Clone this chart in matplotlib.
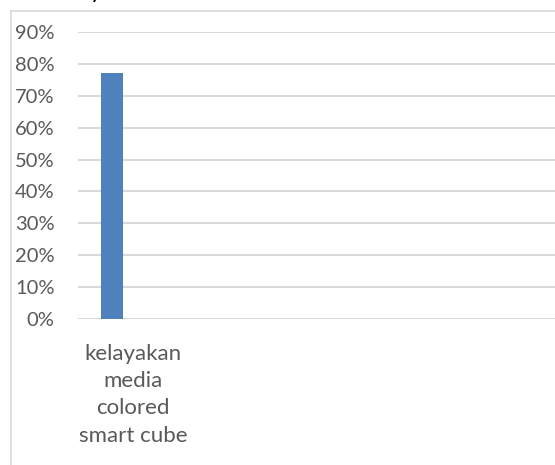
import matplotlib.pyplot as plt
from matplotlib.lines import Line2D
from matplotlib.ticker import FuncFormatter

categories = ['kelayakan\nmedia\ncolored\nsmart cube']
values = [0.77]
yticks = [0, 0.1, 0.2, 0.3, 0.4, 0.5, 0.6, 0.7, 0.8, 0.9]

plt.rcParams['font.family'] = ['Lato', 'DejaVu Sans']

W, H = 555, 465
fig = plt.figure(figsize=(W / 100, H / 100), dpi=100)
fig.patch.set_facecolor('white')

# chart frame (cropped: only top and left edges visible)
fig.add_artist(Line2D([10.5 / W, 10.5 / W], [0, 1 - 11.5 / H],
                      transform=fig.transFigure, color='#d9d9d9', lw=1.2))
fig.add_artist(Line2D([10.5 / W, 1], [1 - 11.5 / H, 1 - 11.5 / H],
                      transform=fig.transFigure, color='#d9d9d9', lw=1.2))

# bottom of the cut-off title
fig.text(96 / W, 1 + 2 / H, 'y', ha='center', va='baseline',
         fontsize=17, color='black')

ax = fig.add_axes([78 / W, 146 / H, 1 - 78 / W, 287 / H])
x = [i + 0.5 for i in range(len(categories))]
ax.bar([p - 0.19 for p in x], values, width=0.2, color='#4f81bd', zorder=3)

ax.set_xlim(0, (W - 78) / 110)
ax.set_ylim(0, 0.9)
ax.set_yticks(yticks)
ax.yaxis.set_major_formatter(FuncFormatter(lambda v, p: '%d%%' % round(v * 100)))
ax.set_xticks(x)
ax.set_xticklabels(categories, linespacing=1.45, fontsize=16)
ax.grid(axis='y', color='#d9d9d9', lw=1.5, zorder=0)
for s in ax.spines.values():
    s.set_visible(False)
ax.tick_params(axis='both', length=0, labelcolor='#595959')
ax.tick_params(axis='y', pad=17, labelsize=14.5)
ax.tick_params(axis='x', pad=18)

fig.savefig('out.png', dpi=100)
